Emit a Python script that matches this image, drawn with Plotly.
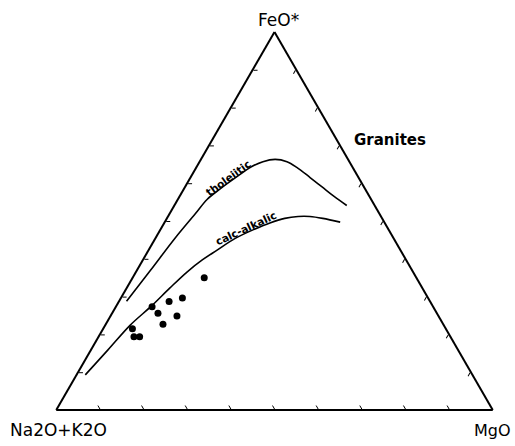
import plotly.graph_objects as go

# Sample compositions (wt% normalised): FeO*, Na2O+K2O, MgO
sample_feo = [35.0, 29.6, 28.7, 27.3, 25.6, 24.9, 22.7, 21.5, 19.4, 19.4]
sample_alk = [48.6, 56.3, 59.8, 64.4, 63.9, 59.9, 64.2, 71.8, 72.5, 71.2]
sample_mgo = [16.4, 14.1, 11.5, 8.3, 10.5, 15.2, 13.1, 6.7, 8.1, 9.4]

# Tholeiitic / calc-alkalic dividing curve (upper)
thol_feo = [28.8, 36.9, 45.5, 51.9, 55.7, 58.5, 61.4, 64.4, 65.7, 66.3, 65.7, 64.2, 61.5, 59.0, 56.5, 54.1]
thol_alk = [69.5, 60.0, 50.0, 42.2, 37.6, 33.2, 28.3, 23.0, 19.8, 16.7, 14.3, 12.8, 11.1, 9.6, 8.1, 6.4]
thol_mgo = [1.7, 3.1, 4.5, 5.9, 6.7, 8.3, 10.3, 12.6, 14.5, 17.0, 20.0, 23.0, 27.4, 31.4, 35.4, 39.5]

# Calc-alkalic trend (lower)
calc_feo = [9.3, 15.9, 22.4, 27.6, 32.3, 36.5, 39.7, 42.3, 45.4, 47.9, 49.5, 50.7, 51.2, 51.2, 50.7, 49.7]
calc_alk = [88.7, 80.2, 71.9, 64.3, 57.8, 51.8, 46.7, 42.0, 36.3, 30.5, 26.3, 22.3, 19.0, 16.3, 13.6, 10.1]
calc_mgo = [2.0, 3.9, 5.7, 8.1, 9.9, 11.7, 13.6, 15.7, 18.3, 21.6, 24.2, 27.0, 29.8, 32.5, 35.7, 40.2]

W, H = 515, 446

fig = go.Figure()
fig.add_trace(go.Scatterternary(a=thol_feo, b=thol_alk, c=thol_mgo, mode="lines",
                                line=dict(color="black", width=1.6, shape="spline"),
                                hoverinfo="skip", showlegend=False))
fig.add_trace(go.Scatterternary(a=calc_feo, b=calc_alk, c=calc_mgo, mode="lines",
                                line=dict(color="black", width=1.6, shape="spline"),
                                hoverinfo="skip", showlegend=False))
fig.add_trace(go.Scatterternary(a=sample_feo, b=sample_alk, c=sample_mgo, mode="markers",
                                marker=dict(color="black", size=7),
                                showlegend=False))

axis_common = dict(showgrid=False, showticklabels=False, ticks="inside", ticklen=4,
                   tickwidth=1, tickcolor="black", linecolor="black", linewidth=2,
                   tick0=0, dtick=10, title=dict(text=""))

fig.update_layout(
    width=W, height=H,
    margin=dict(l=0, r=0, t=0, b=0),
    paper_bgcolor="white",
    ternary=dict(
        sum=100,
        bgcolor="white",
        domain=dict(x=[56 / W, 493 / W], y=[36 / H, 414 / H]),
        aaxis=axis_common,
        baxis=axis_common,
        caxis=axis_common,
    ),
    font=dict(family="DejaVu Sans", color="black"),
)


def px(x, y):
    return x / W, 1 - y / H


labels = [
    ("FeO*", 278, 20, 17, 0, False),
    ("Na2O+K2O", 58, 430, 17, 0, False),
    ("MgO", 492, 430, 16, 0, False),
    ("Granites", 390, 140, 15, 0, True),
    ("tholeiitic", 228, 178, 10.5, -36, True),
    ("calc-alkalic", 246, 228, 10.5, -25, True),
]
for text, x, y, size, ang, bold in labels:
    xp, yp = px(x, y)
    fig.add_annotation(x=xp, y=yp, xref="paper", yref="paper", text=(f"<b>{text}</b>" if bold else text),
                       showarrow=False, xanchor="center", yanchor="middle", textangle=ang,
                       font=dict(size=size, family="DejaVu Sans", color="black"))

fig.write_html("out.html", config={"displayModeBar": False},
               post_script="document.body.style.margin='0';document.body.style.overflow='hidden';")
